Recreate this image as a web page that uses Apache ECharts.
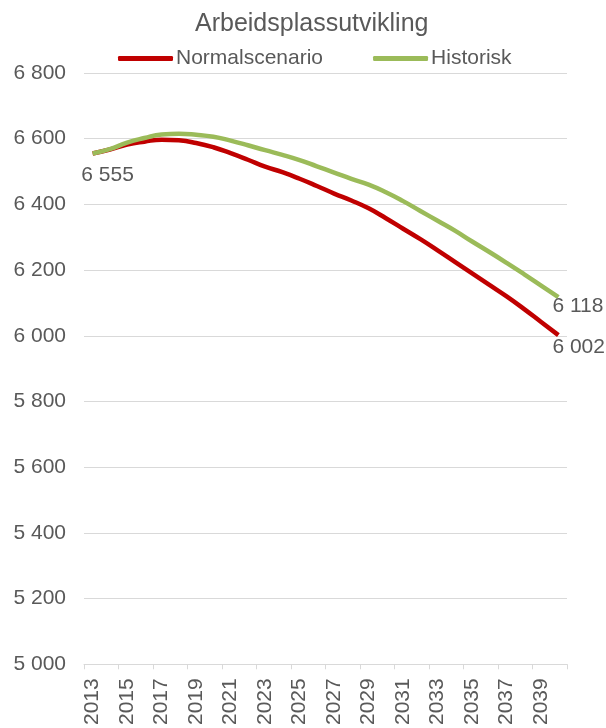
<!DOCTYPE html>
<html>
<head>
<meta charset="utf-8">
<script src="https://cdn.jsdelivr.net/npm/echarts@6/dist/echarts.min.js"></script>
<style>
  html, body { margin: 0; padding: 0; background: #fff; }
  #chart { width: 606px; height: 728px; }
</style>
</head>
<body>
<div id="chart"></div>
<script>
var years = []
for (var y = 2013; y <= 2040; y++) years.push(String(y))

var normalscenario = [6555, 6567, 6582, 6591, 6597, 6595, 6587, 6574, 6556, 6536,
  6515, 6498, 6478, 6456, 6433, 6412, 6388, 6358, 6326, 6294,
  6260, 6225, 6190, 6155, 6120, 6082, 6042, 6002]
var historisk = [6555, 6568, 6588, 6602, 6613, 6615, 6612, 6606, 6594, 6580,
  6565, 6551, 6535, 6516, 6497, 6478, 6460, 6437, 6410, 6380,
  6350, 6320, 6287, 6255, 6222, 6188, 6153, 6118]

// which points carry a value label, and how the label is shifted
var normalLabels = { 0: { align: 'center', offset: [15, 11] }, 27: { align: 'left', offset: [-6, 2] } }
var historiskLabels = { 27: { align: 'left', offset: [-6, -1] } }

var textColor = '#595959'
var font = 'Liberation Sans, Arial, sans-serif'

function fmt(v) {
  return String(Math.round(v)).replace(/\B(?=(\d{3})+(?!\d))/g, ' ')
}

function withLabels(values, labels) {
  return values.map(function(v, i) {
    var lab = labels[i]
    if (!lab) return v
    return {
      value: v,
      label: {
        show: true,
        position: 'bottom',
        align: lab.align,
        offset: lab.offset,
        distance: 0,
        color: textColor,
        fontSize: 21,
        fontFamily: font,
        formatter: function(p) { return fmt(p.value) }
      }
    }
  })
}

var chart = echarts.init(document.getElementById('chart'))
chart.setOption({
  backgroundColor: '#fff',
  animation: false,
  title: {
    text: 'Arbeidsplassutvikling',
    left: 190,
    top: 7,
    textStyle: {
      color: textColor,
      fontSize: 25,
      fontWeight: 'normal',
      fontFamily: font
    }
  },
  legend: {
    top: 43,
    left: 113,
    itemWidth: 55,
    itemHeight: 5,
    itemGap: 50,
    icon: 'roundRect',
    textStyle: {
      color: textColor,
      fontSize: 21,
      fontFamily: font,
      padding: [0, 0, 0, -2]
    },
    data: ['Normalscenario', 'Historisk']
  },
  grid: {
    left: 84,
    right: 39,
    top: 73,
    bottom: 60
  },
  xAxis: {
    type: 'category',
    boundaryGap: true,
    data: years,
    axisLine: { lineStyle: { color: '#d9d9d9', width: 1 } },
    axisTick: { show: true, length: 5, lineStyle: { color: '#d9d9d9' } },
    axisLabel: {
      interval: 1,
      rotate: 90,
      color: textColor,
      fontSize: 21,
      fontFamily: font,
      margin: 14
    }
  },
  yAxis: {
    type: 'value',
    min: 5000,
    max: 6800,
    interval: 200,
    axisLine: { show: false },
    axisTick: { show: false },
    splitLine: { lineStyle: { color: '#d9d9d9', width: 1 } },
    axisLabel: {
      color: textColor,
      fontSize: 21,
      fontFamily: font,
      margin: 18,
      formatter: fmt
    }
  },
  series: [
    {
      name: 'Normalscenario',
      type: 'line',
      smooth: true,
      symbol: 'circle',
      symbolSize: 0,
      showSymbol: true,
      itemStyle: { color: '#C00000' },
      lineStyle: { color: '#C00000', width: 4.5 },
      data: withLabels(normalscenario, normalLabels),
      z: 2
    },
    {
      name: 'Historisk',
      type: 'line',
      smooth: true,
      symbol: 'circle',
      symbolSize: 0,
      showSymbol: true,
      itemStyle: { color: '#9BBB59' },
      lineStyle: { color: '#9BBB59', width: 4.5 },
      data: withLabels(historisk, historiskLabels),
      z: 3
    }
  ]
})
</script>
</body>
</html>
